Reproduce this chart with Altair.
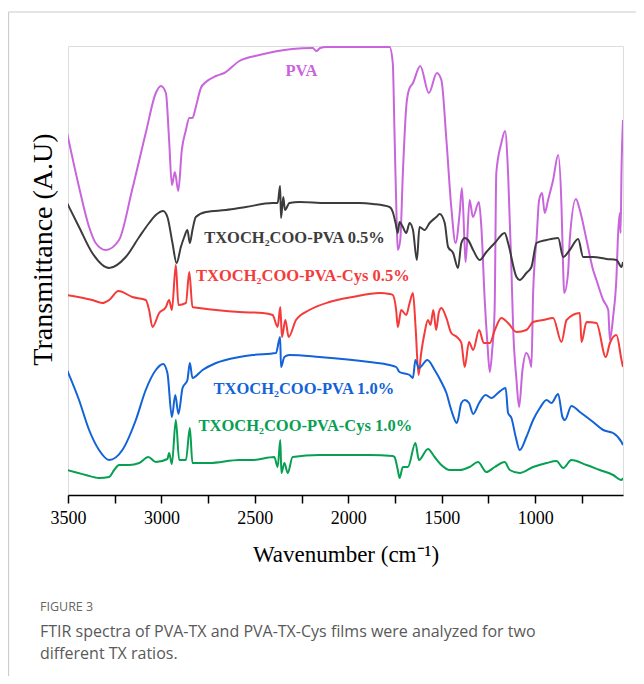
import altair as alt
import pandas as pd

# ---------------- data (wavenumber cm-1, transmittance a.u.) ----------------
pva_wn = [3505, 3441, 3387, 3352, 3298, 3227, 3157, 3084, 3030, 3003, 2976, 2959, 2944, 2928, 2910,
          2891, 2869, 2851, 2834, 2816, 2789, 2762, 2708, 2664, 2583, 2476, 2300, 2190, 2172, 2150,
          2119, 2031, 1900, 1779, 1762, 1753, 1740, 1735, 1722, 1708, 1690, 1676, 1654, 1615, 1569,
          1526, 1502, 1475, 1449, 1426, 1404, 1392, 1377, 1372, 1351, 1333, 1301, 1288, 1270, 1255,
          1243, 1230, 1217, 1208, 1181, 1161, 1145, 1127, 1118, 1100, 1086, 1068, 1047, 1029, 1020,
          1011, 1002, 993, 979, 963, 949, 931, 904, 877, 859, 850, 845, 824, 815, 782, 761, 725, 690,
          672, 636, 609, 600, 583, 565, 556, 547, 543, 538, 530]
pva_t = [362, 308, 268, 252, 245, 255, 305, 362, 402, 409, 402, 355, 310, 323, 304,
         345, 365, 377, 377, 388, 407, 413, 419, 422, 434, 440, 446, 447, 444, 447,
         448, 448, 448, 448, 432, 365, 265, 245, 255, 322, 388, 405, 412, 429, 402,
         422, 415, 355, 288, 252, 282, 307, 248, 233, 295, 278, 293, 268, 195, 150,
         123, 145, 185, 322, 352, 364, 322, 225, 168, 115, 88, 125, 142, 135, 128,
         202, 235, 255, 295, 302, 282, 295, 315, 340, 288, 225, 202, 222, 255, 296, 285, 255, 225,
         215, 195, 185, 155, 178, 218, 262, 282, 262, 325, 375]

tx05_wn = [3505, 3441, 3370, 3280, 3191, 3119, 3066, 3030, 2991, 2968, 2941, 2919, 2896, 2878, 2861,
           2848, 2834, 2816, 2762, 2655, 2548, 2405, 2378, 2365, 2360, 2348, 2339, 2315, 2262, 2119,
           1940, 1867, 1779, 1762, 1747, 1735, 1726, 1708, 1690, 1672, 1654, 1633, 1619, 1592, 1565,
           1529, 1511, 1484, 1466, 1439, 1413, 1395, 1377, 1359, 1332, 1297, 1261, 1216, 1163, 1145,
           1100, 1083, 1047, 1020, 993, 939, 877, 850, 815, 770, 743, 690, 618, 565, 538, 530]
tx05_t = [292, 268, 242, 227, 238, 258, 272, 280, 284, 278, 252, 232, 248, 258, 265,
          252, 265, 278, 283, 285, 288, 292, 292, 309, 277, 298, 285, 292, 293, 292,
          292, 291, 288, 283, 272, 262, 273, 268, 262, 272, 265, 235, 268, 265, 272,
          278, 281, 272, 248, 242, 227, 252, 257, 255, 245, 235, 243, 252, 262, 252,
          218, 215, 222, 228, 252, 255, 257, 238, 245, 256, 238, 238, 236, 235, 228, 233]

cys05_wn = [3505, 3370, 3316, 3280, 3230, 3155, 3084, 3066, 3048, 3012, 2976, 2959, 2944, 2923, 2909,
            2869, 2851, 2834, 2798, 2583, 2459, 2405, 2378, 2364, 2355, 2337, 2319, 2280, 2208, 2101,
            1976, 1833, 1779, 1762, 1744, 1735, 1717, 1690, 1672, 1654, 1640, 1624, 1610, 1592, 1574,
            1560, 1545, 1530, 1515, 1502, 1475, 1449, 1419, 1395, 1377, 1354, 1332, 1300, 1275, 1243,
            1216, 1181, 1145, 1100, 1047, 1011, 957, 904, 859, 832, 761, 752, 725, 672, 622, 600,
            565, 538, 530]
cys05_t = [200, 195, 192, 195, 204, 198, 195, 185, 168, 182, 188, 195, 185, 230, 190,
           192, 223, 188, 187, 183, 182, 180, 168, 188, 158, 175, 158, 175, 185, 193,
           198, 202, 201, 200, 185, 168, 185, 180, 192, 202, 168, 120, 142, 162, 175,
           170, 185, 165, 183, 187, 177, 162, 158, 152, 128, 153, 145, 165, 152, 152,
           165, 177, 172, 163, 165, 173, 175, 177, 153, 175, 182, 153, 173, 172, 138, 152,
           160, 135, 128]

tx10_wn = [3505, 3441, 3387, 3334, 3280, 3209, 3137, 3084, 3030, 2991, 2968, 2944, 2926, 2909, 2887,
           2861, 2848, 2834, 2780, 2708, 2583, 2512, 2387, 2365, 2360, 2342, 2315, 2155, 1887, 1779,
           1744, 1726, 1672, 1654, 1641, 1622, 1577, 1538, 1502, 1475, 1449, 1419, 1395, 1377, 1354,
           1332, 1300, 1265, 1234, 1199, 1158, 1145, 1127, 1104, 1083, 1047, 1011, 975, 939, 913,
           877, 854, 841, 806, 761, 690, 636, 583, 538, 530]
tx10_t = [125, 95, 65, 45, 35, 45, 75, 105, 125, 131, 122, 78, 100, 81, 107,
          115, 132, 117, 125, 132, 138, 140, 142, 158, 128, 138, 140, 138, 133, 130,
          128, 123, 120, 117, 135, 127, 135, 125, 113, 102, 85, 72, 92, 95, 92,
          81, 92, 100, 97, 102, 107, 82, 77, 58, 45, 58, 75, 87, 95, 92,
          101, 78, 75, 89, 83, 73, 65, 62, 53, 50]

cys10_wn = [3505, 3405, 3334, 3280, 3253, 3227, 3173, 3119, 3070, 3030, 2968, 2959, 2944, 2923, 2905,
            2869, 2848, 2834, 2744, 2583, 2512, 2396, 2378, 2364, 2358, 2342, 2324, 2298, 2155, 1887,
            1762, 1753, 1735, 1726, 1708, 1681, 1641, 1622, 1574, 1538, 1502, 1457, 1404, 1351, 1306,
            1261, 1216, 1163, 1136, 1083, 1011, 939, 886, 850, 806, 725, 654, 583, 538, 530]
cys10_t = [25, 20, 17, 18, 25, 30, 30, 32, 38, 33, 36, 42, 31, 75, 35,
           35, 67, 32, 32, 35, 35, 38, 28, 55, 22, 32, 22, 38, 40, 40,
           39, 38, 25, 17, 28, 28, 52, 35, 46, 38, 30, 25, 25, 28, 33,
           23, 28, 33, 25, 22, 28, 32, 34, 27, 35, 30, 25, 20, 15, 17]

series_names = ["PVA", "TXOCH2COO-PVA 0.5%", "TXOCH2COO-PVA-Cys 0.5%",
                "TXOCH2COO-PVA 1.0%", "TXOCH2COO-PVA-Cys 1.0%"]
series_labels = ["PVA", "TXOCH₂COO-PVA 0.5%", "TXOCH₂COO-PVA-Cys 0.5%",
                 "TXOCH₂COO-PVA 1.0%", "TXOCH₂COO-PVA-Cys 1.0%"]
series_colors = ["#C865DC", "#3C3C3C", "#F53A3A", "#1262D8", "#07A052"]
label_colors = ["#C865DC", "#333333", "#FF2424", "#1565E0", "#00A050"]
label_wn = [2251, 2288, 2243, 2238, 2230]
label_t = [424, 257, 219, 106, 69]

x_ticks = [3500, 3250, 3000, 2750, 2500, 2250, 2000, 1750, 1500, 1250, 1000, 750]

# ---------------- build tables ----------------
rows = []
for name, wn, t in zip(series_names,
                       [pva_wn, tx05_wn, cys05_wn, tx10_wn, cys10_wn],
                       [pva_t, tx05_t, cys05_t, tx10_t, cys10_t]):
    for i, (w, v) in enumerate(zip(wn, t)):
        rows.append({"series": name, "wn": w, "t": v, "i": i})
df = pd.DataFrame(rows)
lab = pd.DataFrame({"series": series_names, "label": series_labels,
                    "wn": label_wn, "t": label_t})

SERIF = "Liberation Serif"
xscale = alt.Scale(domain=[530, 3500], reverse=True, nice=False, zero=False)
yscale = alt.Scale(domain=[0, 449], nice=False, zero=False)
cscale = alt.Scale(domain=series_names, range=series_colors)
lscale = alt.Scale(domain=series_names, range=label_colors)

lines = alt.Chart(df).mark_line(strokeWidth=2, clip=True, interpolate="monotone").encode(
    x=alt.X("wn:Q", scale=xscale,
            axis=alt.Axis(values=x_ticks, format="d",
                          labelExpr="datum.value % 500 == 0 ? datum.label : ''",
                          title="Wavenumber (cm⁻¹)", grid=False,
                          domainColor="#000", domainWidth=1.5,
                          tickColor="#000", tickWidth=1.5, tickSize=8,
                          labelFont=SERIF, labelFontSize=18, labelColor="#000",
                          labelPadding=6, labelFlush=False,
                          titleFont=SERIF, titleFontSize=23, titleFontWeight="normal",
                          titleColor="#000", titlePadding=16)),
    y=alt.Y("t:Q", scale=yscale,
            axis=alt.Axis(labels=False, ticks=False, domain=False, grid=False,
                          title="Transmittance (A.U)", titleFont=SERIF, titleFontSize=28,
                          titleFontWeight="normal", titleColor="#000", titlePadding=11,
                          titleY=203)),
    color=alt.Color("series:N", scale=cscale, legend=None),
    order="i:Q",
    detail="series:N",
)

labels = alt.Chart(lab).mark_text(font=SERIF, fontSize=16.5, fontWeight="bold",
                                  align="center", baseline="middle").encode(
    x=alt.X("wn:Q", scale=xscale),
    y=alt.Y("t:Q", scale=yscale),
    text="label:N",
    color=alt.Color("series:N", scale=lscale, legend=None),
)

one = pd.DataFrame({"k": [0]})
border_top = alt.Chart(one).mark_rule(color="#cccccc", strokeWidth=1.2).encode(
    x=alt.value(-59.5), x2=alt.value(568), y=alt.value(-34))
border_left = alt.Chart(one).mark_rule(color="#cccccc", strokeWidth=1.2).encode(
    x=alt.value(-59.5), y=alt.value(-34), y2=alt.value(640))

fig = alt.Chart(one).mark_text(font="Open Sans", fontSize=12.5, color="#666666",
                               align="left", baseline="alphabetic").encode(
    x=alt.value(-28), y=alt.value(565), text=alt.value("FIGURE 3"))
cap1 = alt.Chart(one).mark_text(font="Open Sans", fontSize=16, color="#595959",
                                align="left", baseline="alphabetic").encode(
    x=alt.value(-28), y=alt.value(591),
    text=alt.value("FTIR spectra of PVA-TX and PVA-TX-Cys films were analyzed for two"))
cap2 = alt.Chart(one).mark_text(font="Open Sans", fontSize=16, color="#595959",
                                align="left", baseline="alphabetic").encode(
    x=alt.value(-28), y=alt.value(613), text=alt.value("different TX ratios."))

chart = alt.layer(lines, labels, border_top, border_left, fig, cap1, cap2).properties(
    width=555, height=449,
    autosize=alt.AutoSizeParams(type="none"),
    padding={"left": 60, "top": 38, "right": 13, "bottom": 181},
).configure_view(stroke="#000000", strokeWidth=1.5).configure(background="white")

chart.save("out.html", embed_options={"renderer": "svg", "actions": False})
